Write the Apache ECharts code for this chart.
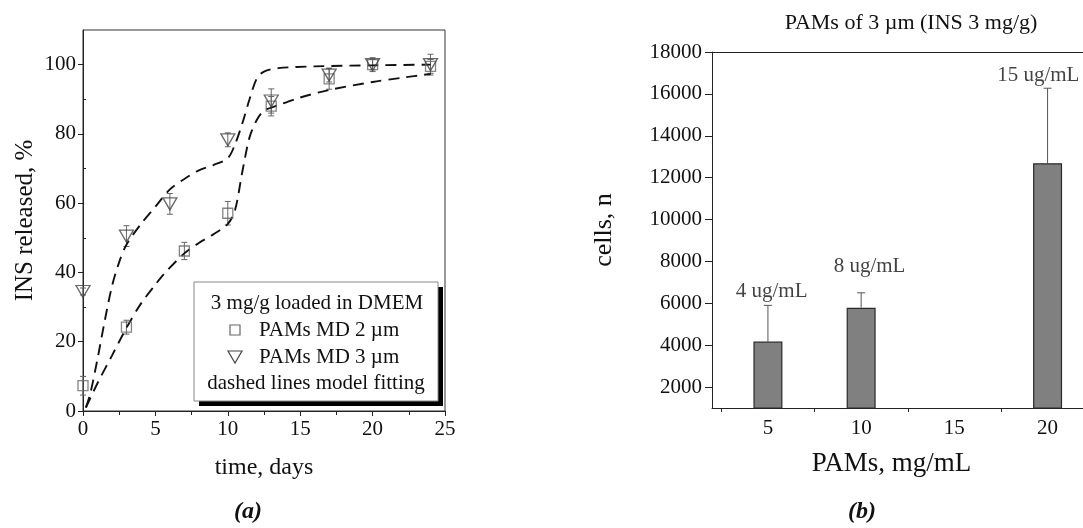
<!DOCTYPE html>
<html>
<head>
<meta charset="utf-8">
<script src="https://cdn.jsdelivr.net/npm/echarts@6/dist/echarts.min.js"></script>
<style>
  html, body { margin: 0; padding: 0; background: #fff; }
  #main { width: 1083px; height: 528px; }
</style>
</head>
<body>
<div id="main"></div>
<script>
// (a) release data, time in days
var timeMD2 = [0, 3, 7, 10, 13, 17, 20, 24];
var relMD2 = [7.3, 24.2, 46.2, 57.1, 88, 95.9, 100, 99.5];
var errMD2 = [2.7, 2, 2.5, 3.4, 2.8, 3, 1.5, 2];

var timeMD3 = [0, 3, 6, 10, 13, 17, 20, 24];
var relMD3 = [34.5, 50.5, 59.8, 78.3, 89.5, 97, 100, 100];
var errMD3 = [1, 3, 3, 2, 3.5, 2, 2, 3];

// dashed model fitting curves
var fitMD3 = [[0.2, 1], [0.5, 5], [1, 15], [1.5, 26], [2, 36], [2.5, 43], [3, 48], [4, 54], [5, 59],
  [6, 64], [7, 67], [8, 69.5], [9, 71], [10, 73], [10.5, 77], [11, 83], [11.5, 90], [12, 96],
  [12.5, 98], [13.5, 99], [16, 99.5], [20, 99.8], [24, 100]];
var fitMD2 = [[0.2, 1], [1, 8], [2, 16], [3, 24], [4, 31], [5, 36.5], [5.6, 39.6], [7, 45.5],
  [8, 48.5], [9, 51], [10, 54], [10.5, 58], [11, 69], [11.5, 79], [12, 84], [12.5, 86.7],
  [13.5, 88.3], [15, 90.5], [17, 92.7], [20, 95], [22, 96.2], [24, 97.3]];

// (b) cells vs PAMs concentration
var pamsConc = [5, 10, 20];
var cellCount = [4170, 5790, 12690];
var cellErrTop = [5900, 6500, 16270];
var insLabels = ['4 ug/mL', '8 ug/mL', '15 ug/mL'];
var insLabelAnchor = [[5.2, 6550], [10.45, 7750], [19.5, 16880]];

var aTicks = [0, 20, 40, 60, 80, 100];
var aMinor = [10, 30, 50, 70, 90];
var bTicks = [2000, 4000, 6000, 8000, 10000, 12000, 14000, 16000, 18000];
var bMinor = [3000, 5000, 7000, 9000, 11000, 13000, 15000, 17000];

var serif = 'Liberation Serif';
var ink = '#111';
var markGrey = '#666';

function pairs(xs, ys) {
  return xs.map(function (x, i) { return [x, ys[i]]; });
}

function errBars(xs, ys, es) {
  return xs.map(function (x, i) { return [x, ys[i] - es[i], ys[i] + es[i]]; });
}

function renderErr(params, api) {
  var lo = api.coord([api.value(0), api.value(1)]);
  var hi = api.coord([api.value(0), api.value(2)]);
  var c = 3;
  return {
    type: 'group',
    children: [
      { type: 'line', shape: { x1: lo[0], y1: lo[1], x2: hi[0], y2: hi[1] }, style: { stroke: markGrey, lineWidth: 1 } },
      { type: 'line', shape: { x1: hi[0] - c, y1: hi[1], x2: hi[0] + c, y2: hi[1] }, style: { stroke: markGrey, lineWidth: 1 } },
      { type: 'line', shape: { x1: lo[0] - c, y1: lo[1], x2: lo[0] + c, y2: lo[1] }, style: { stroke: markGrey, lineWidth: 1 } }
    ]
  };
}

function renderTopErr(params, api) {
  var lo = api.coord([api.value(0), api.value(1)]);
  var hi = api.coord([api.value(0), api.value(2)]);
  return {
    type: 'group',
    children: [
      { type: 'line', shape: { x1: lo[0], y1: lo[1], x2: hi[0], y2: hi[1] }, style: { stroke: '#555', lineWidth: 1 } },
      { type: 'line', shape: { x1: hi[0] - 4, y1: hi[1], x2: hi[0] + 4, y2: hi[1] }, style: { stroke: '#555', lineWidth: 1 } }
    ]
  };
}

function plain(v) { return String(v); }

var axisLineStyle = { show: true, onZero: false, lineStyle: { color: '#222', width: 1 } };

var myChart = echarts.init(document.getElementById('main'), null, { renderer: 'canvas' });

var option = {
  animation: false,
  backgroundColor: '#fff',
  textStyle: { fontFamily: serif, color: ink },
  grid: [
    { left: 83, right: 638, top: 30, bottom: 117, show: true, borderColor: '#333', borderWidth: 1, backgroundColor: 'transparent' },
    { left: 712, right: 0, top: 52, bottom: 120, show: false }
  ],
  xAxis: [
    {
      gridIndex: 0, type: 'value', min: 0, max: 25, interval: 5,
      axisLine: axisLineStyle,
      axisTick: { show: true, length: 5, lineStyle: { color: '#222' } },
      minorTick: { show: true, splitNumber: 2, length: 4, lineStyle: { color: '#222' } },
      splitLine: { show: false },
      axisLabel: { fontFamily: serif, fontSize: 21, color: ink, margin: 8 },
      name: 'time, days', nameLocation: 'middle', nameGap: 45,
      nameTextStyle: { fontFamily: serif, fontSize: 24, color: ink }
    },
    {
      gridIndex: 1, type: 'value', min: 2, max: 21.9,
      axisLine: axisLineStyle,
      axisTick: { show: true, length: 4, customValues: [2.5, 7.5, 12.5, 17.5], lineStyle: { color: '#222' } },
      splitLine: { show: false },
      axisLabel: { fontFamily: serif, fontSize: 21, color: ink, margin: 10, customValues: [5, 10, 15, 20] },
      name: 'PAMs, mg/mL', nameLocation: 'middle', nameGap: 42,
      nameTextStyle: { fontFamily: serif, fontSize: 27, color: ink, padding: [0, 12, 0, 0] }
    },
    {
      // top frame line of (b)
      gridIndex: 1, type: 'value', min: 2, max: 21.9, position: 'top',
      axisLine: axisLineStyle,
      axisTick: { show: false },
      axisLabel: { show: false },
      splitLine: { show: false }
    }
  ],
  yAxis: [
    {
      gridIndex: 0, type: 'value', min: 0, max: 110,
      axisLine: axisLineStyle,
      axisTick: { show: true, length: 5, customValues: aTicks, lineStyle: { color: '#222' } },
      splitLine: { show: false },
      axisLabel: { fontFamily: serif, fontSize: 21, color: ink, margin: 7, customValues: aTicks, formatter: plain },
      name: 'INS released, %', nameLocation: 'middle', nameGap: 45, nameRotate: 90,
      nameTextStyle: { fontFamily: serif, fontSize: 25, color: ink }
    },
    {
      gridIndex: 0, type: 'value', min: 0, max: 110,
      axisLine: { show: false },
      axisTick: { show: true, length: 3, customValues: aMinor, lineStyle: { color: '#222' } },
      axisLabel: { show: false },
      splitLine: { show: false }
    },
    {
      gridIndex: 1, type: 'value', min: 1000, max: 18000,
      axisLine: axisLineStyle,
      axisTick: { show: true, length: 7, customValues: bTicks, lineStyle: { color: '#222' } },
      splitLine: { show: false },
      axisLabel: { fontFamily: serif, fontSize: 21, color: ink, margin: 10, customValues: bTicks, formatter: plain },
      name: 'cells, n', nameLocation: 'middle', nameGap: 95, nameRotate: 90,
      nameTextStyle: { fontFamily: serif, fontSize: 26, color: ink }
    },
    {
      gridIndex: 1, type: 'value', min: 1000, max: 18000,
      axisLine: { show: false },
      axisTick: { show: true, length: 3, customValues: bMinor, lineStyle: { color: '#222' } },
      axisLabel: { show: false },
      splitLine: { show: false }
    }
  ],
  series: [
    {
      name: 'fit 3 um', type: 'line', xAxisIndex: 0, yAxisIndex: 0,
      data: fitMD3, smooth: 0.3, symbol: 'none', z: 3,
      lineStyle: { color: '#111', width: 1.9, type: [11, 7] }
    },
    {
      name: 'fit 2 um', type: 'line', xAxisIndex: 0, yAxisIndex: 0,
      data: fitMD2, smooth: 0.3, symbol: 'none', z: 3,
      lineStyle: { color: '#111', width: 1.9, type: [11, 7] }
    },
    {
      name: 'err 2 um', type: 'custom', xAxisIndex: 0, yAxisIndex: 0,
      data: errBars(timeMD2, relMD2, errMD2), renderItem: renderErr, z: 2
    },
    {
      name: 'err 3 um', type: 'custom', xAxisIndex: 0, yAxisIndex: 0,
      data: errBars(timeMD3, relMD3, errMD3), renderItem: renderErr, z: 2
    },
    {
      name: 'PAMs MD 2 µm', type: 'scatter', xAxisIndex: 0, yAxisIndex: 0,
      data: pairs(timeMD2, relMD2), symbol: 'rect', symbolSize: 10, z: 4,
      itemStyle: { color: 'rgba(255,255,255,0)', borderColor: markGrey, borderWidth: 1.3 }
    },
    {
      name: 'PAMs MD 3 µm', type: 'scatter', xAxisIndex: 0, yAxisIndex: 0,
      data: pairs(timeMD3, relMD3), symbol: 'triangle', symbolRotate: 180, symbolSize: [14, 12], z: 4,
      itemStyle: { color: 'rgba(255,255,255,0)', borderColor: '#444', borderWidth: 1.3 }
    },
    {
      name: 'cells', type: 'bar', xAxisIndex: 1, yAxisIndex: 2,
      data: pairs(pamsConc, cellCount), barWidth: 29,
      itemStyle: { color: '#808080', borderColor: '#2a2a2a', borderWidth: 1.2 }
    },
    {
      name: 'cells err', type: 'custom', xAxisIndex: 1, yAxisIndex: 2,
      data: pamsConc.map(function (x, i) { return [x, cellCount[i], cellErrTop[i]]; }),
      renderItem: renderTopErr, z: 1
    },
    {
      name: 'INS dose', type: 'scatter', xAxisIndex: 1, yAxisIndex: 2,
      data: insLabelAnchor, symbolSize: 0,
      label: {
        show: true, position: 'inside', fontFamily: serif, fontSize: 21, color: ink,
        formatter: function (p) { return insLabels[p.dataIndex]; }
      }
    }
  ],
  graphic: [
    // legend box of (a)
    { type: 'rect', shape: { x: 199, y: 287, width: 244, height: 119 }, style: { fill: '#000' }, z: 10 },
    { type: 'rect', shape: { x: 194, y: 282, width: 244, height: 119 }, style: { fill: '#fff', stroke: '#888', lineWidth: 1 }, z: 11 },
    { type: 'text', x: 317, y: 303, z: 12, style: { text: '3 mg/g loaded in DMEM', font: '21px "Liberation Serif"', fill: ink, align: 'center', verticalAlign: 'middle' } },
    { type: 'rect', shape: { x: 230, y: 325, width: 10, height: 10 }, style: { fill: '#fff', stroke: markGrey, lineWidth: 1.2 }, z: 12 },
    { type: 'text', x: 259, y: 330, z: 12, style: { text: 'PAMs MD 2 µm', font: '21px "Liberation Serif"', fill: ink, align: 'left', verticalAlign: 'middle' } },
    { type: 'polygon', shape: { points: [[228, 351], [242, 351], [235, 363]] }, style: { fill: '#fff', stroke: '#444', lineWidth: 1.2 }, z: 12 },
    { type: 'text', x: 259, y: 357, z: 12, style: { text: 'PAMs MD 3 µm', font: '21px "Liberation Serif"', fill: ink, align: 'left', verticalAlign: 'middle' } },
    { type: 'text', x: 316, y: 383, z: 12, style: { text: 'dashed lines model fitting', font: '21px "Liberation Serif"', fill: ink, align: 'center', verticalAlign: 'middle' } },
    // title of (b)
    { type: 'text', x: 911, y: 23, style: { text: 'PAMs of 3 µm (INS 3 mg/g)', font: '22px "Liberation Serif"', fill: ink, align: 'center', verticalAlign: 'middle' } },
    // panel letters
    { type: 'text', x: 248, y: 512, style: { text: '(a)', font: 'italic bold 24px "Liberation Serif"', fill: ink, align: 'center', verticalAlign: 'middle' } },
    { type: 'text', x: 862, y: 512, style: { text: '(b)', font: 'italic bold 24px "Liberation Serif"', fill: ink, align: 'center', verticalAlign: 'middle' } }
  ]
};

myChart.setOption(option);
</script>
</body>
</html>
